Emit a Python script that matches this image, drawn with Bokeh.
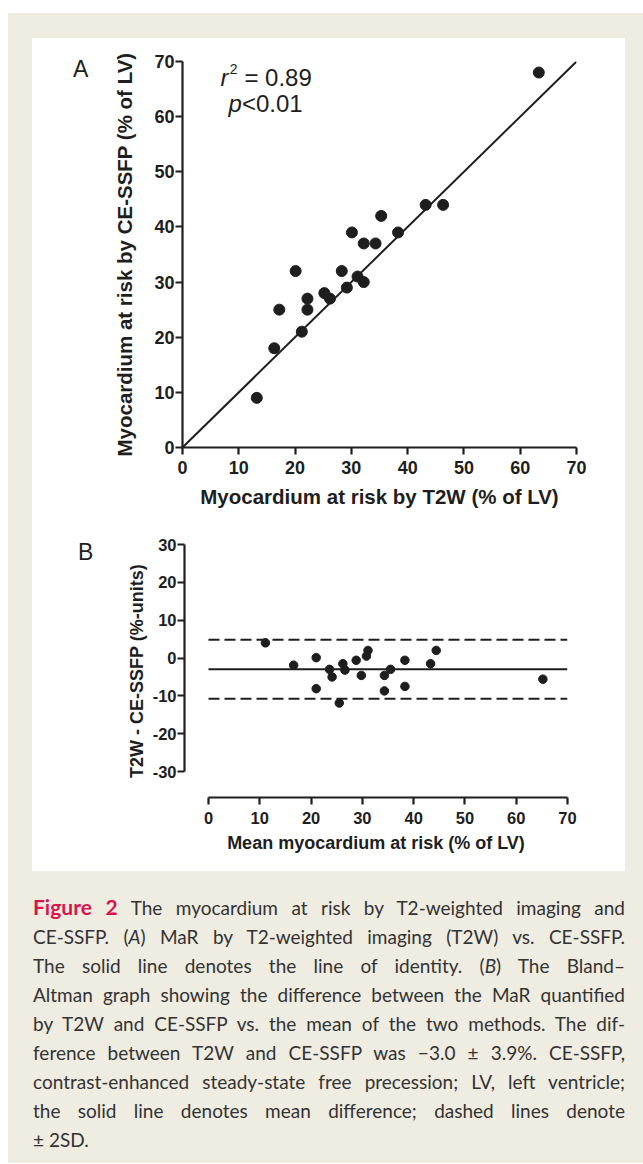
from bokeh.plotting import figure
from bokeh.models import Range1d, Label, Div
from bokeh.layouts import column, row
from bokeh.embed import file_html
from bokeh.resources import INLINE

# ---------------- Data ----------------
# Panel A: MaR by T2W (x) vs CE-SSFP (y), % of LV
t2w = [13.2, 16.3, 17.2, 20.1, 21.2, 22.2, 22.2, 25.2, 26.2, 28.3, 29.2,
       30.1, 31.1, 32.2, 32.2, 34.3, 35.3, 38.3, 43.2, 46.3, 63.3]
cessfp = [9, 18, 25, 32, 21, 27, 25, 28, 27, 32, 29,
          39, 31, 30, 37, 37, 42, 39, 44, 44, 68]
identity_x = [0, 70]
identity_y = [0, 70]

# Panel B: Bland-Altman
ba_mean = [11.1, 16.6, 21.0, 21.0, 23.6, 24.1, 25.5, 26.2, 26.6, 28.8, 29.8,
           30.8, 31.1, 34.3, 34.3, 35.5, 38.3, 38.3, 43.3, 44.4, 65.2]
ba_diff = [4.0, -1.9, 0.1, -8.1, -3.0, -5.0, -11.9, -1.5, -3.2, -0.6, -4.6,
           0.5, 2.0, -4.6, -8.7, -3.0, -0.6, -7.5, -1.5, 2.0, -5.6]
mean_diff = -3.0
sd_diff = 3.9
limit_x = [0, 70]

ticks_a = [0, 10, 20, 30, 40, 50, 60, 70]
ticks_bx = [0, 10, 20, 30, 40, 50, 60, 70]
ticks_by = [-30, -20, -10, 0, 10, 20, 30]

INK = "#1e1e1e"
FONT = "Liberation Sans"
BEIGE = "#efece2"


def style_axes(p, tick_size, title_size, xstand, ystand):
    p.grid.visible = False
    for ax in (p.xaxis[0], p.yaxis[0]):
        ax.axis_line_width = 2.2
        ax.axis_line_color = INK
        ax.major_tick_line_width = 2.2
        ax.major_tick_line_color = INK
        ax.major_tick_out = 7
        ax.major_tick_in = 0
        ax.minor_tick_line_color = None
        ax.major_label_text_font = FONT
        ax.major_label_text_font_style = "bold"
        ax.major_label_text_font_size = tick_size
        ax.major_label_text_color = INK
        ax.axis_label_text_font = FONT
        ax.axis_label_text_font_style = "bold"
        ax.axis_label_text_font_size = title_size
        ax.axis_label_text_color = INK
    p.xaxis[0].major_label_standoff = xstand
    p.yaxis[0].major_label_standoff = ystand


def panel_letter(letter, pad_top, pad_left, height):
    html = ('<div style="padding-top:%dpx;padding-left:%dpx;font-family:\'Liberation Sans\';'
            'font-size:23px;line-height:22px;color:%s;">%s</div>' % (pad_top, pad_left, INK, letter))
    d = Div(text=html, width=70, height=height, styles={"background-color": "white"})
    d.margin = (0, 0, 0, 0)
    return d


# ---------------- Panel A ----------------
pA = figure(width=523, height=487, x_range=Range1d(0, 70), y_range=Range1d(0, 70),
            output_backend="svg", toolbar_location=None,
            min_border_left=80, min_border_right=49, min_border_top=23, min_border_bottom=78,
            background_fill_color="white", border_fill_color="white", outline_line_color=None)
style_axes(pA, "18px", "20.5px", 6, 1)
pA.xaxis.ticker = ticks_a
pA.yaxis.ticker = ticks_a
pA.xaxis.axis_label = "Myocardium at risk by T2W (% of LV)"
pA.yaxis.axis_label = "Myocardium at risk by CE-SSFP (% of LV)"
pA.xaxis.axis_label_standoff = 8
pA.yaxis.axis_label_standoff = 15

pA.line(identity_x, identity_y, line_color=INK, line_width=2)
pA.scatter(t2w, cessfp, size=11, color=INK)

lab = dict(text_font=FONT, text_color=INK, text_baseline="alphabetic")
pA.add_layout(Label(x=6.75, y=67.1, text="r", text_font_size="24px", text_font_style="italic", **lab))
pA.add_layout(Label(x=8.4, y=68.7, text="2", text_font_size="14px", **lab))
pA.add_layout(Label(x=11.0, y=67.1, text="= 0.89", text_font_size="24px", **lab))
pA.add_layout(Label(x=8.17, y=62.4, text="p", text_font_size="24px", text_font_style="italic", **lab))
pA.add_layout(Label(x=10.55, y=62.4, text="<0.01", text_font_size="24px", **lab))

# ---------------- Panel B ----------------
pB = figure(width=523, height=346, x_range=Range1d(-4.68, 70), y_range=Range1d(-36.87, 30),
            output_backend="svg", toolbar_location=None,
            min_border_left=82, min_border_right=58, min_border_top=19, min_border_bottom=74,
            background_fill_color="white", border_fill_color="white", outline_line_color=None)
style_axes(pB, "16.5px", "18px", 7, 1)
pB.xaxis.ticker = ticks_bx
pB.yaxis.ticker = ticks_by
pB.yaxis.major_label_overrides = {t: str(t) for t in ticks_by}
pB.xaxis.bounds = (0, 70)
pB.yaxis.bounds = (-30, 30)
pB.xaxis.axis_label = "Mean myocardium at risk (% of LV)"
pB.yaxis.axis_label = "T2W - CE-SSFP (%-units)"
pB.xaxis.axis_label_standoff = 6
pB.yaxis.axis_label_standoff = 3

upper = mean_diff + 2 * sd_diff
lower = mean_diff - 2 * sd_diff
pB.line(limit_x, [upper, upper], line_color=INK, line_width=2, line_dash="11 5")
pB.line(limit_x, [lower, lower], line_color=INK, line_width=2, line_dash="11 5")
pB.line(limit_x, [mean_diff, mean_diff], line_color=INK, line_width=2)
pB.scatter(ba_mean, ba_diff, size=8.5, color=INK)

divA = panel_letter("A", 20, 41, 487)
divB = panel_letter("B", 16, 46, 346)

# ---------------- Caption ----------------
ls = "text-align:justify;text-align-last:justify;"
lines = [
    '<span style="color:#d6164b;font-weight:bold;font-size:21px;">Figure 2</span> The myocardium at risk by T2-weighted imaging and',
    'CE-SSFP. (<i>A</i>) MaR by T2-weighted imaging (T2W) vs. CE-SSFP.',
    'The solid line denotes the line of identity. (<i>B</i>) The Bland&ndash;',
    'Altman graph showing the difference between the MaR quantified',
    'by T2W and CE-SSFP vs. the mean of the two methods. The dif-',
    'ference between T2W and CE-SSFP was &minus;3.0 &plusmn; 3.9%. CE-SSFP,',
    'contrast-enhanced steady-state free precession; LV, left ventricle;',
    'the solid line denotes mean difference; dashed lines denote',
]
html = '<div style="font-family:Lato;font-size:19px;line-height:29px;color:#333;width:592px;">'
for t in lines:
    html += '<div style="%s">%s</div>' % (ls, t)
html += '<div style="text-align:left;">&plusmn; 2SD.</div></div>'
cap = Div(text=html, width=592, height=261)
cap.margin = (21, 18, 10, 25)

white = {"background-color": "white"}
rowA = row(divA, pA, styles=white)
rowA.margin = (25, 18, 0, 24)
rowB = row(divB, pB, styles=white)
rowB.margin = (0, 18, 0, 24)

root = column(rowA, rowB, cap, styles={"background-color": BEIGE})
root.margin = (13, 0, 0, 8)

open("out.html", "w").write(file_html(root, INLINE))
